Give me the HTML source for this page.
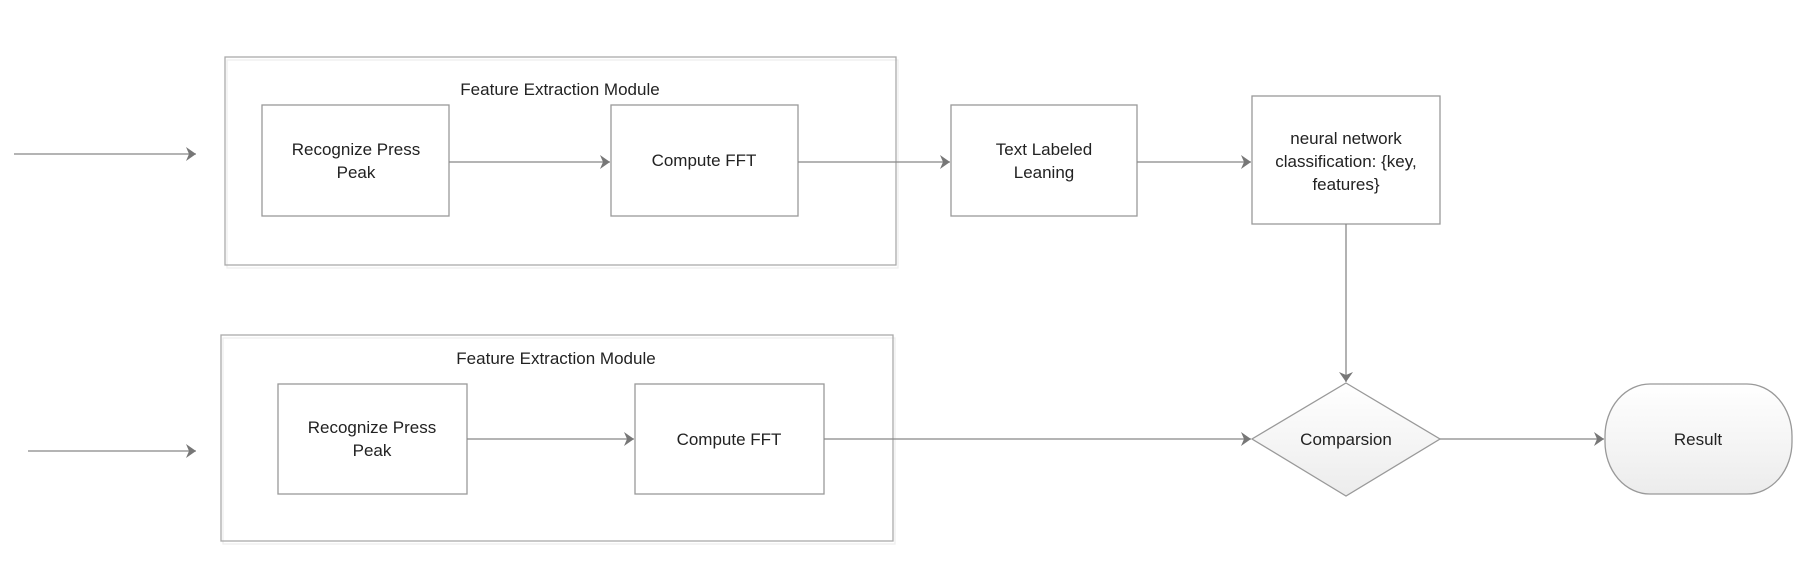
<!DOCTYPE html>
<html><head><meta charset="utf-8"><style>
body{margin:0;background:#fff;}
svg text{font-family:"Liberation Sans",sans-serif;font-size:17px;fill:#222;text-anchor:middle;}
</style></head><body>
<svg width="1818" height="578" viewBox="0 0 1818 578" xmlns="http://www.w3.org/2000/svg">
<defs>
<marker id="a" markerWidth="12" markerHeight="14" refX="11" refY="7" orient="auto" markerUnits="userSpaceOnUse">
<path d="M1,0 L11,7 L1,14 L4,7 Z" fill="#777"/></marker>
<linearGradient id="g" x1="0" y1="0" x2="0" y2="1"><stop offset="0" stop-color="#fff"/><stop offset="1" stop-color="#ececec"/></linearGradient>
</defs>
<g fill="none" stroke="#aaa" stroke-width="1.3">
<rect x="225" y="57" width="671" height="208" stroke="#eee" transform="translate(2,3)"/>
<rect x="225" y="57" width="671" height="208"/>
<rect x="221" y="335" width="672" height="206" stroke="#eee" transform="translate(2,3)"/>
<rect x="221" y="335" width="672" height="206"/>
</g>
<g fill="#fff" stroke="#999" stroke-width="1.3">
<rect x="262" y="105" width="187" height="111"/>
<rect x="611" y="105" width="187" height="111"/>
<rect x="951" y="105" width="186" height="111"/>
<rect x="1252" y="96" width="188" height="128"/>
<rect x="278" y="384" width="189" height="110"/>
<rect x="635" y="384" width="189" height="110"/>
<polygon points="1346,383 1440,439 1346,496 1252,439" fill="url(#g)"/>
<rect x="1605" y="384" width="187" height="110" rx="45" ry="52" fill="url(#g)"/>
</g>
<g stroke="#888" stroke-width="1.3" fill="none" marker-end="url(#a)">
<line x1="14" y1="154" x2="196" y2="154"/>
<line x1="449" y1="162" x2="610" y2="162"/>
<line x1="798" y1="162" x2="950" y2="162"/>
<line x1="1137" y1="162" x2="1251" y2="162"/>
<line x1="1346" y1="224" x2="1346" y2="382"/>
<line x1="28" y1="451" x2="196" y2="451"/>
<line x1="467" y1="439" x2="634" y2="439"/>
<line x1="824" y1="439" x2="1251" y2="439"/>
<line x1="1440" y1="439" x2="1604" y2="439"/>
</g>
<text x="560" y="95">Feature Extraction Module</text>
<text x="356" y="155">Recognize Press</text>
<text x="356" y="178">Peak</text>
<text x="704" y="166">Compute FFT</text>
<text x="1044" y="155">Text Labeled</text>
<text x="1044" y="178">Leaning</text>
<text x="1346" y="144">neural network</text>
<text x="1346" y="167">classification: {key,</text>
<text x="1346" y="190">features}</text>
<text x="556" y="364">Feature Extraction Module</text>
<text x="372" y="433">Recognize Press</text>
<text x="372" y="456">Peak</text>
<text x="729" y="445">Compute FFT</text>
<text x="1346" y="445">Comparsion</text>
<text x="1698" y="445">Result</text>
</svg>
</body></html>
